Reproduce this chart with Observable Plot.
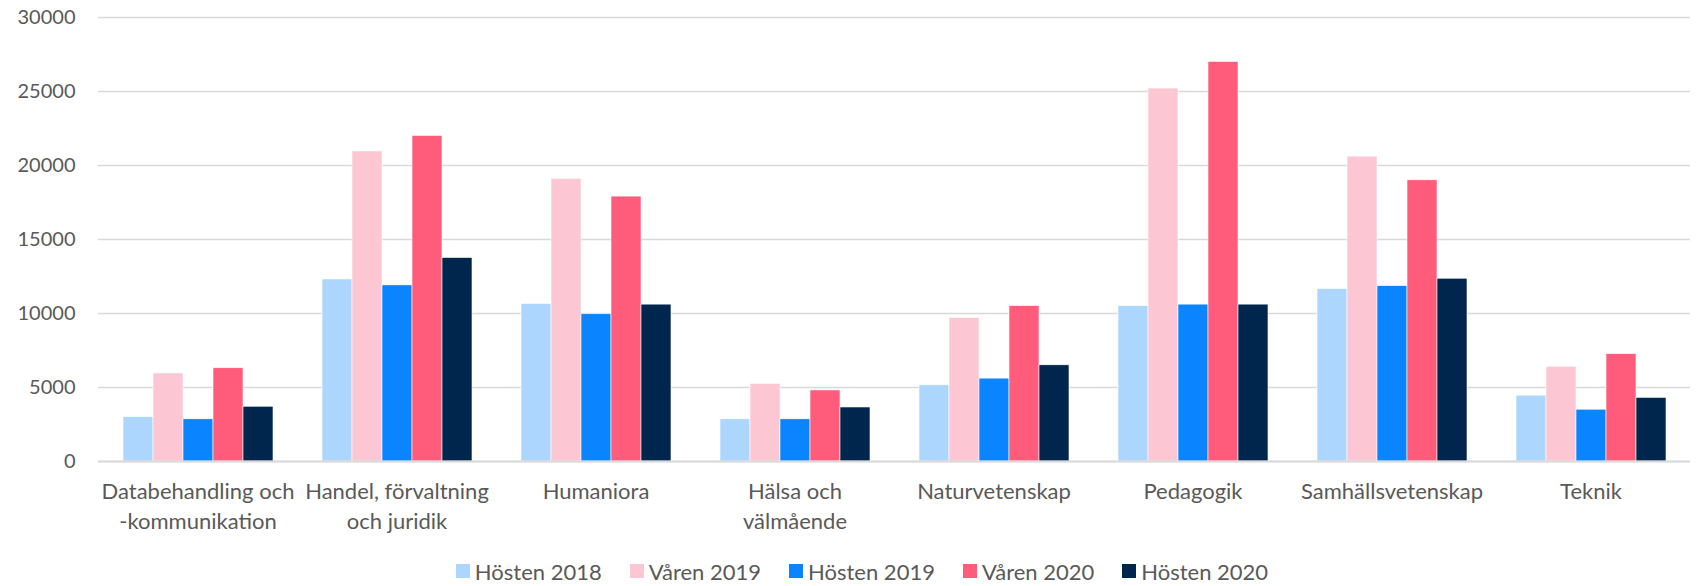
<!DOCTYPE html>
<html>
<head>
<meta charset="utf-8">
<script src="https://cdn.jsdelivr.net/npm/d3@7"></script>
<script src="https://cdn.jsdelivr.net/npm/@observablehq/plot@0.6"></script>
<style>
  html, body { margin: 0; padding: 0; background: white; }
  #chart { width: 1698px; }
  .legend { display: flex; justify-content: center; align-items: center; height: 24px; margin-top: 9px; padding-left: 26px;
            font-family: Lato, "Open Sans", sans-serif; font-size: 22px; color: #595959; }
  .legend .item { display: flex; align-items: center; margin: 0 14px; }
  .legend .sw { width: 14px; height: 14px; margin-right: 5px; }
</style>
</head>
<body>
<div id="chart"></div>
<script>
const categories = ["Databehandling och -kommunikation", "Handel, förvaltning och juridik", "Humaniora", "Hälsa och välmående", "Naturvetenskap", "Pedagogik", "Samhällsvetenskap", "Teknik"];
const categoryLabels = ["Databehandling och\n-kommunikation", "Handel, förvaltning\noch juridik", "Humaniora", "Hälsa och\nvälmående", "Naturvetenskap", "Pedagogik", "Samhällsvetenskap", "Teknik"];
const series = ["Hösten 2018", "Våren 2019", "Hösten 2019", "Våren 2020", "Hösten 2020"];
const colors = ["#ADD6FE", "#FCC7D3", "#0A84FF", "#FF5B7B", "#00264D"];
const hosten2018 = [3000, 12300, 10650, 2850, 5150, 10500, 11650, 4450];
const varen2019  = [5950, 20950, 19100, 5250, 9700, 25200, 20600, 6400];
const hosten2019 = [2850, 11900, 9950, 2850, 5600, 10600, 11850, 3500];
const varen2020  = [6300, 22000, 17900, 4800, 10500, 27000, 19000, 7250];
const hosten2020 = [3700, 13750, 10600, 3650, 6500, 10600, 12350, 4300];
const yTicks = [0, 5000, 10000, 15000, 20000, 25000, 30000];

const seriesValues = [hosten2018, varen2019, hosten2019, varen2020, hosten2020];
const data = [];
categories.forEach((c, i) => {
  series.forEach((s, j) => data.push({category: c, series: s, value: seriesValues[j][i]}));
});
const labelMap = new Map(categories.map((c, i) => [c, categoryLabels[i]]));

const chart = Plot.plot({
  width: 1698,
  height: 550,
  marginLeft: 95,
  marginRight: 5,
  marginTop: 17,
  marginBottom: 89,
  style: {fontFamily: "Lato, 'Open Sans', sans-serif", fontSize: "20px", color: "#595959", background: "white"},
  fx: {domain: categories, padding: 0, label: null},
  x: {domain: series, paddingInner: 0, paddingOuter: 0.747, axis: null},
  y: {domain: [0, 30000], label: null},
  color: {domain: series, range: colors},
  marks: [
    Plot.gridY(yTicks, {stroke: "#d9d9d9", strokeOpacity: 1, strokeWidth: 1.5}),
    Plot.axisY(yTicks, {tickSize: 0, tickPadding: 23, label: null, fontSize: 20, tickFormat: d3.format("d")}),
    Plot.barY(data, {fx: "category", x: "series", y: "value", fill: "series", stroke: "white", strokeWidth: 0.6}),
    Plot.ruleY([0], {stroke: "#d9d9d9", strokeWidth: 2}),
    Plot.axisFx({anchor: "bottom", tickSize: 0, tickPadding: 17, label: null, fontSize: 22, lineHeight: 1.33, tickFormat: d => labelMap.get(d)})
  ]
});
document.getElementById("chart").appendChild(chart);

const legend = document.createElement("div");
legend.className = "legend";
series.forEach((s, i) => {
  const item = document.createElement("div");
  item.className = "item";
  const sw = document.createElement("span");
  sw.className = "sw";
  sw.style.background = colors[i];
  const t = document.createElement("span");
  t.textContent = s;
  item.appendChild(sw);
  item.appendChild(t);
  legend.appendChild(item);
});
document.body.appendChild(legend);
</script>
</body>
</html>
